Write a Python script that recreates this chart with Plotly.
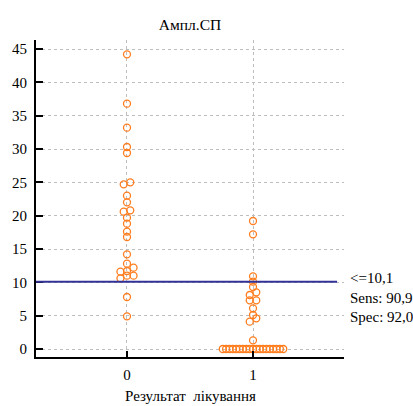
import plotly.graph_objects as go

# ---- data ----
categories = [0, 1]
group0_values = [44.2, 36.8, 33.2, 30.3, 29.4, 25.0, 24.7, 23.0, 22.0, 20.8, 20.6,
                 19.7, 18.8, 17.6, 16.8, 14.2, 12.8, 12.2, 11.7, 11.6, 11.0, 11.0,
                 10.6, 7.8, 4.9]
group1_values = [19.2, 17.2, 10.9, 10.1, 9.3, 8.5, 8.1, 7.3, 7.3, 6.1, 5.1, 4.6, 4.1, 1.3] + [0.0] * 19
threshold = 10.1
stats_labels = ["<=10,1", "Sens: 90,9", "Spec: 92,0"]
y_ticks = [0, 5, 10, 15, 20, 25, 30, 35, 40, 45]
title_text = "Ампл.СП"
x_title = "Результат  лікування"

# ---- dot-plot spreading (rows of near-equal values spread horizontally) ----
ROW_TOL = 0.7      # value units
STEP = 0.052       # x units between neighbours in a row
MAX_SPAN = 0.48    # max width of a row in x units


def spread(values, center):
    vals = sorted(values)
    xs, ys = [], []
    i = 0
    while i < len(vals):
        j = i
        while j + 1 < len(vals) and vals[j + 1] - vals[i] < ROW_TOL:
            j += 1
        row = vals[i:j + 1]
        n = len(row)
        step = STEP if n < 2 else min(STEP, MAX_SPAN / (n - 1))
        for k, v in enumerate(row):
            xs.append(center + (k - (n - 1) / 2) * step)
            ys.append(v)
        i = j + 1
    return xs, ys


fig = go.Figure()
orange = "rgb(255,125,30)"
for cat, vals in zip(categories, [group0_values, group1_values]):
    xs, ys = spread(vals, cat)
    fig.add_trace(go.Scatter(
        x=xs, y=ys, mode="markers",
        marker=dict(symbol="circle-open", size=7, color=orange, line=dict(width=1.3, color=orange)),
        showlegend=False, hoverinfo="skip"))

xr = [-0.722, 1.722]
yr = [-1.2, 46.35]

fig.add_shape(type="line", xref="x", yref="y", x0=xr[0], x1=1.667, y0=threshold, y1=threshold,
              line=dict(color="rgb(50,50,150)", width=2), layer="above")

serif = "Liberation Serif"
FS = 15
tfont = dict(family=serif, size=FS, color="black")
yshifts = [4, -16, -35]
for txt, ys in zip(stats_labels, yshifts):
    fig.add_annotation(text=txt, xref="paper", x=1.0, xanchor="left", xshift=4,
                       yref="y", y=threshold, yanchor="middle", yshift=ys,
                       showarrow=False, font=tfont)

# x-axis title placed below the tick labels
fig.add_annotation(text=x_title, xref="paper", x=0.5, xanchor="center",
                   yref="paper", y=0, yanchor="middle", yshift=-39,
                   showarrow=False, font=tfont)

fig.update_layout(
    width=413, height=406,
    margin=dict(l=36, r=69, t=40, b=49, autoexpand=False),
    paper_bgcolor="white", plot_bgcolor="white",
    font=tfont,
    title=dict(text=title_text, x=190 / 413, xref="container", xanchor="center",
               y=1 - 25 / 406, yref="container", yanchor="middle",
               font=dict(family=serif, size=15.5, color="black")),
    xaxis=dict(range=xr, tickvals=categories, ticktext=[str(c) for c in categories],
               tickfont=tfont, automargin=False,
               showgrid=True, gridcolor="rgb(190,190,190)", griddash="dot", gridwidth=1,
               zeroline=False, showline=True, linecolor="black", linewidth=2,
               ticks="inside", ticklen=6, tickwidth=1.5, tickcolor="black",
               ticklabelstandoff=3),
    yaxis=dict(range=yr, tickvals=y_ticks, tickfont=tfont, automargin=False,
               showgrid=True, gridcolor="rgb(190,190,190)", griddash="dot", gridwidth=1,
               zeroline=False, showline=True, linecolor="black", linewidth=2,
               ticks="inside", ticklen=7, tickwidth=1.5, tickcolor="black",
               ticklabelstandoff=4),
)

fig.write_html("out.html")
